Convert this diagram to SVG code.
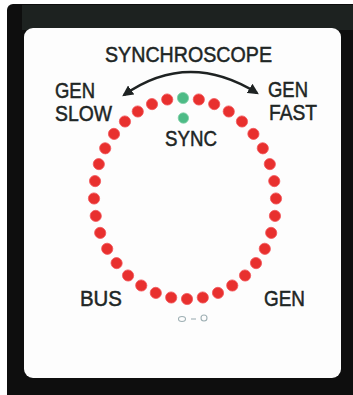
<svg xmlns="http://www.w3.org/2000/svg" width="353" height="395" viewBox="0 0 353 395">
  <style>
    .lbl { font-family: "Liberation Sans", Arial, sans-serif; font-size: 22px; fill: #1e2625; stroke: #1e2625; stroke-width: 0.5; }
    .led { fill: #e8302e; stroke: #f2555a; stroke-width: 0.8; }
    .grn { fill: #4dbb86; stroke: #7fd0a6; stroke-width: 0.8; }
    .arc { fill: none; stroke: #1e2222; stroke-width: 2.6; }
  </style>
  <defs>
    <marker id="ah" viewBox="0 0 10 10" refX="8" refY="5" markerWidth="4.2" markerHeight="4.2" orient="auto-start-reverse">
      <path d="M0,0 L10,5 L0,10 Z" fill="#1e2222"/>
    </marker>
  </defs>

  <!-- frame -->
  <g id="frame">
    <rect x="0" y="0" width="353" height="395" fill="#ffffff"/>
    <rect x="7" y="4" width="352" height="396" rx="6" fill="#0e0e0e"/>
    <rect x="22" y="5" width="336" height="25" fill="#1d2220"/>
    <rect x="24" y="28" width="317" height="350" rx="9" fill="#fdfdfd"/>
  </g>

  <!-- labels -->
  <g id="title"><text class="lbl" x="105" y="62" textLength="167" lengthAdjust="spacingAndGlyphs">SYNCHROSCOPE</text></g>
  <g id="gen-slow">
    <text class="lbl" x="55" y="98" textLength="40" lengthAdjust="spacingAndGlyphs">GEN</text>
    <text class="lbl" x="55" y="121" textLength="57" lengthAdjust="spacingAndGlyphs">SLOW</text>
  </g>
  <g id="gen-fast">
    <text class="lbl" x="268" y="97" textLength="40" lengthAdjust="spacingAndGlyphs">GEN</text>
    <text class="lbl" x="269" y="120" textLength="48" lengthAdjust="spacingAndGlyphs">FAST</text>
  </g>
  <g id="sync"><text class="lbl" x="165" y="146" textLength="52" lengthAdjust="spacingAndGlyphs">SYNC</text></g>
  <g id="bus"><text class="lbl" x="80" y="306" textLength="42" lengthAdjust="spacingAndGlyphs">BUS</text></g>
  <g id="gen"><text class="lbl" x="264" y="306" textLength="41" lengthAdjust="spacingAndGlyphs">GEN</text></g>

  <!-- connectors -->
  <g id="connectors">
    <path class="arc" d="M124,95 Q188,50 257,93" marker-start="url(#ah)" marker-end="url(#ah)"/>
  </g>

  <!-- LED ring -->
  <g id="led-ring" transform="translate(185,198.5) skewX(1.15) translate(-185,-198.5)">
    <circle class="grn" cx="185" cy="98" r="5.6"/>
    <circle class="led" cx="200.8" cy="99.5" r="5.6"/>
    <circle class="led" cx="216.1" cy="104.1" r="5.6"/>
    <circle class="led" cx="230.5" cy="111.5" r="5.6"/>
    <circle class="led" cx="243.5" cy="121.5" r="5.6"/>
    <circle class="led" cx="254.7" cy="133.9" r="5.6"/>
    <circle class="led" cx="263.8" cy="148.3" r="5.6"/>
    <circle class="led" cx="270.5" cy="164.1" r="5.6"/>
    <circle class="led" cx="274.6" cy="181.1" r="5.6"/>
    <circle class="led" cx="276" cy="198.5" r="5.6"/>
    <circle class="led" cx="274.6" cy="215.9" r="5.6"/>
    <circle class="led" cx="270.5" cy="232.9" r="5.6"/>
    <circle class="led" cx="263.8" cy="248.8" r="5.6"/>
    <circle class="led" cx="254.7" cy="263.1" r="5.6"/>
    <circle class="led" cx="243.5" cy="275.5" r="5.6"/>
    <circle class="led" cx="230.5" cy="285.5" r="5.6"/>
    <circle class="led" cx="216.1" cy="292.9" r="5.6"/>
    <circle class="led" cx="200.8" cy="297.5" r="5.6"/>
    <circle class="led" cx="185" cy="299" r="5.6"/>
    <circle class="led" cx="169.2" cy="297.5" r="5.6"/>
    <circle class="led" cx="153.9" cy="292.9" r="5.6"/>
    <circle class="led" cx="139.5" cy="285.5" r="5.6"/>
    <circle class="led" cx="126.5" cy="275.5" r="5.6"/>
    <circle class="led" cx="115.3" cy="263.1" r="5.6"/>
    <circle class="led" cx="106.2" cy="248.8" r="5.6"/>
    <circle class="led" cx="99.5" cy="232.9" r="5.6"/>
    <circle class="led" cx="95.4" cy="215.9" r="5.6"/>
    <circle class="led" cx="94" cy="198.5" r="5.6"/>
    <circle class="led" cx="95.4" cy="181.1" r="5.6"/>
    <circle class="led" cx="99.5" cy="164.1" r="5.6"/>
    <circle class="led" cx="106.2" cy="148.3" r="5.6"/>
    <circle class="led" cx="115.3" cy="133.9" r="5.6"/>
    <circle class="led" cx="126.5" cy="121.5" r="5.6"/>
    <circle class="led" cx="139.5" cy="111.5" r="5.6"/>
    <circle class="led" cx="153.9" cy="104.1" r="5.6"/>
    <circle class="led" cx="169.2" cy="99.5" r="5.6"/>
    <circle class="grn" cx="185" cy="118" r="5.2"/>
  </g>

  <!-- small maker mark -->
  <g id="mark" fill="none" stroke="#9fb0b4" stroke-width="1.1">
    <ellipse cx="182" cy="319" rx="3.5" ry="2.5"/>
    <line x1="191" y1="319" x2="196" y2="319"/>
    <circle cx="204" cy="318" r="3"/>
  </g>
</svg>
